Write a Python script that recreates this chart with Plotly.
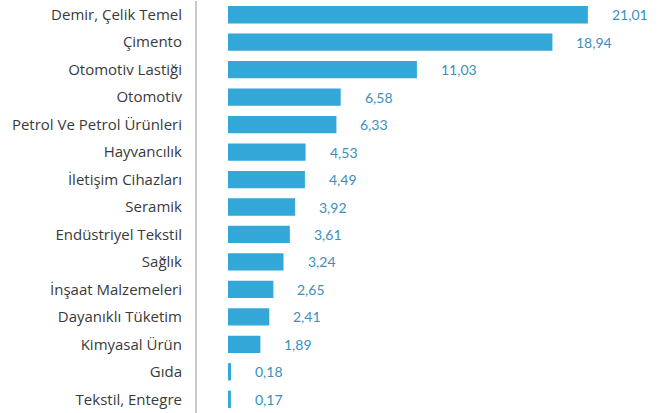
import plotly.graph_objects as go

categories = [
    "Demir, Çelik Temel", "Çimento", "Otomotiv Lastiği", "Otomotiv",
    "Petrol Ve Petrol Ürünleri", "Hayvancılık", "İletişim Cihazları",
    "Seramik", "Endüstriyel Tekstil", "Sağlık", "İnşaat Malzemeleri",
    "Dayanıklı Tüketim", "Kimyasal Ürün", "Gıda", "Tekstil, Entegre",
]
values = [21.01, 18.94, 11.03, 6.58, 6.33, 4.53, 4.49, 3.92, 3.61, 3.24,
          2.65, 2.41, 1.89, 0.18, 0.17]

bar_color = "#33A7D7"
label_color = "#3A8FBC"

labels = [f"{v:.2f}".replace(".", ",") for v in values]

fig = go.Figure(go.Bar(
    x=values, y=categories, orientation="h",
    marker=dict(color=bar_color, line=dict(width=0)),
    hoverinfo="skip",
))

for cat, v, t in zip(categories, values, labels):
    fig.add_annotation(x=v, y=cat, text=t, showarrow=False,
                       xanchor="left", xshift=22,
                       font=dict(family="Lato", size=14, color=label_color))

fig.update_layout(
    width=661, height=413,
    margin=dict(l=197, r=0, t=1, b=0),
    paper_bgcolor="white", plot_bgcolor="white",
    bargap=0.37, showlegend=False,
    xaxis=dict(range=[-1.81, 25.28], showgrid=False, zeroline=False,
               showticklabels=False, showline=False, fixedrange=True),
    yaxis=dict(autorange="reversed", showgrid=False, zeroline=False,
               showline=True, linecolor="#C8C8C8", linewidth=2,
               ticks="", ticklabelstandoff=10,
               tickfont=dict(family="Open Sans", size=15, color="#3A3A3A")),
)

fig.write_html("out.html")
